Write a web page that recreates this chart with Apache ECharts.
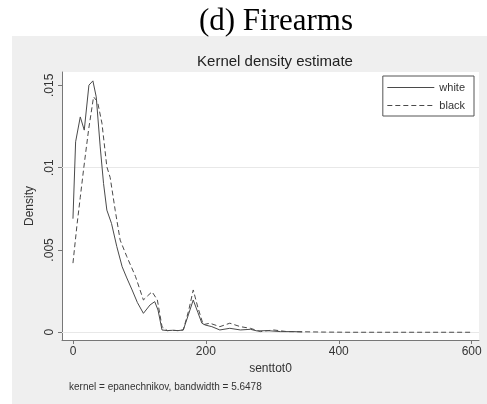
<!DOCTYPE html>
<html>
<head>
<meta charset="utf-8">
<script src="https://cdn.jsdelivr.net/npm/echarts@6/dist/echarts.min.js"></script>
<style>
  html, body { margin: 0; padding: 0; background: #ffffff; }
  #chart { width: 487px; height: 404px; }
</style>
</head>
<body>
<div id="chart"></div>
<script>
// Kernel density of senttot0 by group (epanechnikov kernel)
const whiteX = [0, 4, 11, 17, 24, 30, 35, 41, 46, 51, 58, 66, 74, 81, 89, 97, 106, 116, 123, 128, 134, 142, 150, 158, 166, 174, 181, 188, 194, 199, 209, 221, 236, 252, 267, 277, 292, 312, 332, 345];
const whiteDensity = [0.0069, 0.01157, 0.01308, 0.01228, 0.01501, 0.01527, 0.0143, 0.01126, 0.00904, 0.00742, 0.00661, 0.0052, 0.00398, 0.0033, 0.00257, 0.0018, 0.00115, 0.00166, 0.00186, 0.00135, 0.00014, 0.0001, 0.00012, 0.0001, 0.00014, 0.0011, 0.00196, 0.0012, 0.00055, 0.00044, 0.00034, 0.00014, 0.00024, 0.00014, 0.00018, 0.00008, 0.0001, 0.00004, 0.00004, 0.00002];

const blackX = [0, 6, 11, 16, 23.5, 31, 37, 43.6, 51, 56, 63.6, 71, 81, 94, 106, 112, 119, 127, 134, 142, 150, 158, 166, 174, 181, 188, 196, 206, 221, 236, 252, 267, 282, 302, 322, 345, 380, 420, 480, 540, 600];
const blackDensity = [0.0042, 0.0065, 0.0082, 0.0099, 0.0123, 0.0143, 0.0140, 0.0127, 0.01005, 0.0094, 0.0074, 0.0056, 0.0046, 0.0034, 0.00196, 0.0022, 0.00246, 0.00196, 0.00034, 0.0001, 0.00012, 0.0001, 0.00014, 0.0013, 0.00257, 0.0015, 0.00046, 0.00055, 0.00034, 0.00055, 0.00034, 0.00024, 0.00004, 0.00014, 0.00004, 0.00003, 0.00001, 0, 0, 0, 0];

const xTicks = [0, 200, 400, 600];
const yTicks = [0, 0.005, 0.01, 0.015];

const pairs = (xs, ys) => xs.map((x, i) => [x, ys[i]]);
const sans = 'Liberation Sans, Arial, sans-serif';
const lineColor = '#4a4a4a';

const chart = echarts.init(document.getElementById('chart'), null, { renderer: 'canvas' });

chart.setOption({
  animation: false,
  backgroundColor: '#ffffff',
  graphic: [
    { type: 'rect', z: -10, silent: true, shape: { x: 12, y: 36, width: 475, height: 368 }, style: { fill: '#efefef' } }
  ],
  title: [
    { text: '(d) Firearms', left: 271, top: 1, textAlign: 'center',
      textStyle: { fontFamily: 'Liberation Serif, Times New Roman, serif', fontSize: 31, fontWeight: 'normal', color: '#000' } },
    { text: 'Kernel density estimate', left: 270, top: 49, textAlign: 'center',
      textStyle: { fontFamily: sans, fontSize: 15, fontWeight: 'normal', color: '#222' } },
    { text: 'kernel = epanechnikov, bandwidth = 5.6478', left: 64, top: 377,
      textStyle: { fontFamily: sans, fontSize: 10, fontWeight: 'normal', color: '#333' } }
  ],
  legend: {
    orient: 'vertical',
    right: 13, top: 76,
    padding: [6, 9, 5, 4],
    itemGap: 7,
    itemWidth: 47,
    itemHeight: 12,
    backgroundColor: '#ffffff',
    borderColor: '#555',
    borderWidth: 1,
    borderRadius: 0,
    // line samples only, no marker in the middle
    itemStyle: { opacity: 0 },
    lineStyle: { width: 1 },
    textStyle: { fontFamily: sans, fontSize: 11, color: '#333' },
    data: ['white', 'black']
  },
  grid: {
    left: 62, top: 72, right: 8, bottom: 64,
    show: true, backgroundColor: '#ffffff', borderWidth: 0
  },
  xAxis: {
    type: 'value',
    min: -16.5, max: 611,
    name: 'senttot0',
    nameLocation: 'middle',
    nameGap: 22,
    nameTextStyle: { fontFamily: sans, fontSize: 12, color: '#333' },
    axisLine: { show: true, onZero: false, lineStyle: { color: '#777', width: 1 } },
    axisTick: { show: true, length: 4, customValues: xTicks, lineStyle: { color: '#777' } },
    axisLabel: { customValues: xTicks, fontFamily: sans, fontSize: 12, color: '#333', margin: 6 },
    splitLine: { show: false }
  },
  yAxis: {
    type: 'value',
    min: -0.00047, max: 0.01581,
    name: 'Density',
    nameLocation: 'middle',
    nameGap: 17,
    nameTextStyle: { fontFamily: sans, fontSize: 12, color: '#333' },
    axisLine: { show: true, onZero: false, lineStyle: { color: '#777', width: 1 } },
    axisTick: { show: true, length: 4, customValues: yTicks, lineStyle: { color: '#777' } },
    axisLabel: {
      customValues: yTicks, rotate: 90, fontFamily: sans, fontSize: 12, color: '#333', margin: 6,
      formatter: v => (v === 0 ? '0' : String(+v.toFixed(4)).replace(/^0/, ''))
    },
    splitLine: { show: false }
  },
  series: [
    {
      name: 'white', type: 'line', symbol: 'none', smooth: false,
      data: pairs(whiteX, whiteDensity),
      lineStyle: { color: lineColor, width: 1, type: 'solid' },
      itemStyle: { color: lineColor },
      markLine: {
        silent: true, symbol: 'none', label: { show: false }, z: 1,
        lineStyle: { color: '#e8e8e8', width: 1, type: 'solid' },
        data: yTicks.map(v => ({ yAxis: v }))
      }
    },
    {
      name: 'black', type: 'line', symbol: 'none', smooth: false,
      data: pairs(blackX, blackDensity),
      lineStyle: { color: lineColor, width: 1, type: [5, 3] },
      itemStyle: { color: lineColor }
    }
  ]
});
</script>
</body>
</html>
